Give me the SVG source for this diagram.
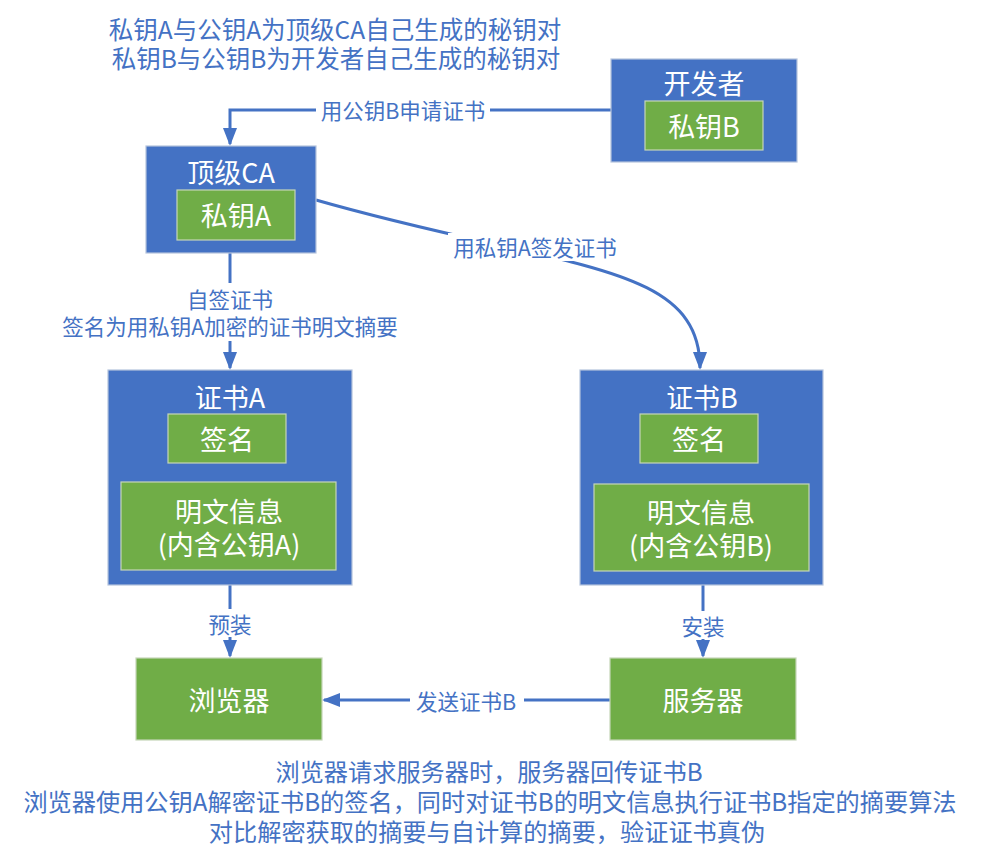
<svg xmlns="http://www.w3.org/2000/svg" width="983" height="852" viewBox="0 0 983 852">
<defs>
<marker id="arr" markerUnits="userSpaceOnUse" markerWidth="20" markerHeight="16" refX="16" refY="7" orient="auto">
<path d="M0,0 L18,7 L0,14 z" fill="#4472C4"/>
</marker>
<style>
text{font-family:"Noto Sans CJK SC","Noto Sans",sans-serif;text-anchor:middle;dominant-baseline:central}
.blue{fill:#4472C4;stroke:#B4C3DD;stroke-width:1.2}
.green{fill:#70AD47;stroke:#C5D6B8;stroke-width:1.2}
.nt{fill:#fff;font-size:27px}
.lbl{fill:#4472C4;font-size:21.5px}
.note{fill:#4472C4;font-size:24.5px}
.note2{fill:#4472C4;font-size:24.2px}
.conn{fill:none;stroke:#4472C4;stroke-width:3}
.bg{fill:#fff}
</style>
</defs>
<rect width="983" height="852" fill="#fff"/>
<g id="note-top">
<text class="note" x="335" y="28">私钥A与公钥A为顶级CA自己生成的秘钥对</text>
<text class="note" x="336" y="57">私钥B与公钥B为开发者自己生成的秘钥对</text>
</g>
<g id="connectors">
<path class="conn" d="M611,110 H230 V144" marker-end="url(#arr)"/>
<path class="conn" d="M230,253 V368" marker-end="url(#arr)"/>
<path class="conn" d="M316,200 C560,270 700,260 700,368" marker-end="url(#arr)"/>
<path class="conn" d="M230,585 V656" marker-end="url(#arr)"/>
<path class="conn" d="M703,585 V656" marker-end="url(#arr)"/>
<path class="conn" d="M610,700 H324" marker-end="url(#arr)"/>
<rect class="bg" x="316" y="96" width="174" height="28"/>
<text class="lbl" x="403" y="109">用公钥B申请证书</text>
<rect class="bg" x="448" y="233" width="174" height="28"/>
<text class="lbl" x="535" y="246">用私钥A签发证书</text>
<rect class="bg" x="56" y="283" width="348" height="58"/>
<text class="lbl" x="230" y="298">自签证书</text>
<text class="lbl" x="230" y="325">签名为用私钥A加密的证书明文摘要</text>
<rect class="bg" x="198" y="609" width="64" height="28"/>
<text class="lbl" x="230" y="623">预装</text>
<rect class="bg" x="671" y="611" width="64" height="28"/>
<text class="lbl" x="703" y="625">安装</text>
<rect class="bg" x="410" y="686" width="114" height="28"/>
<text class="lbl" x="466" y="700">发送证书B</text>
</g>
<g id="developer">
<rect class="blue" x="611" y="59" width="186" height="103"/>
<text class="nt" x="704" y="82">开发者</text>
<rect class="green" x="645" y="101" width="118" height="49"/>
<text class="nt" x="704" y="125">私钥B</text>
</g>
<g id="root-ca">
<rect class="blue" x="146" y="146" width="170" height="107"/>
<text class="nt" x="231" y="171">顶级CA</text>
<rect class="green" x="177" y="190" width="118" height="50"/>
<text class="nt" x="236" y="214">私钥A</text>
</g>
<g id="cert-a">
<rect class="blue" x="108" y="370" width="244" height="215"/>
<text class="nt" x="230" y="396">证书A</text>
<rect class="green" x="168" y="414" width="118" height="49"/>
<text class="nt" x="227" y="438">签名</text>
<rect class="green" x="121" y="482" width="215" height="88"/>
<text class="nt" x="229" y="510">明文信息</text>
<text class="nt" x="229" y="543">(内含公钥A)</text>
</g>
<g id="cert-b">
<rect class="blue" x="580" y="370" width="243" height="215"/>
<text class="nt" x="702" y="396">证书B</text>
<rect class="green" x="640" y="414" width="118" height="49"/>
<text class="nt" x="699" y="438">签名</text>
<rect class="green" x="594" y="484" width="215" height="87"/>
<text class="nt" x="701" y="511">明文信息</text>
<text class="nt" x="701" y="544">(内含公钥B)</text>
</g>
<g id="browser">
<rect class="green" x="136" y="658" width="186" height="82"/>
<text class="nt" x="229" y="699">浏览器</text>
</g>
<g id="server">
<rect class="green" x="610" y="658" width="186" height="82"/>
<text class="nt" x="703" y="699">服务器</text>
</g>
<g id="note-bottom">
<text class="note2" x="489" y="770">浏览器请求服务器时，服务器回传证书B</text>
<text class="note2" x="490" y="800">浏览器使用公钥A解密证书B的签名，同时对证书B的明文信息执行证书B指定的摘要算法</text>
<text class="note2" x="487" y="830">对比解密获取的摘要与自计算的摘要，验证证书真伪</text>
</g>
</svg>
